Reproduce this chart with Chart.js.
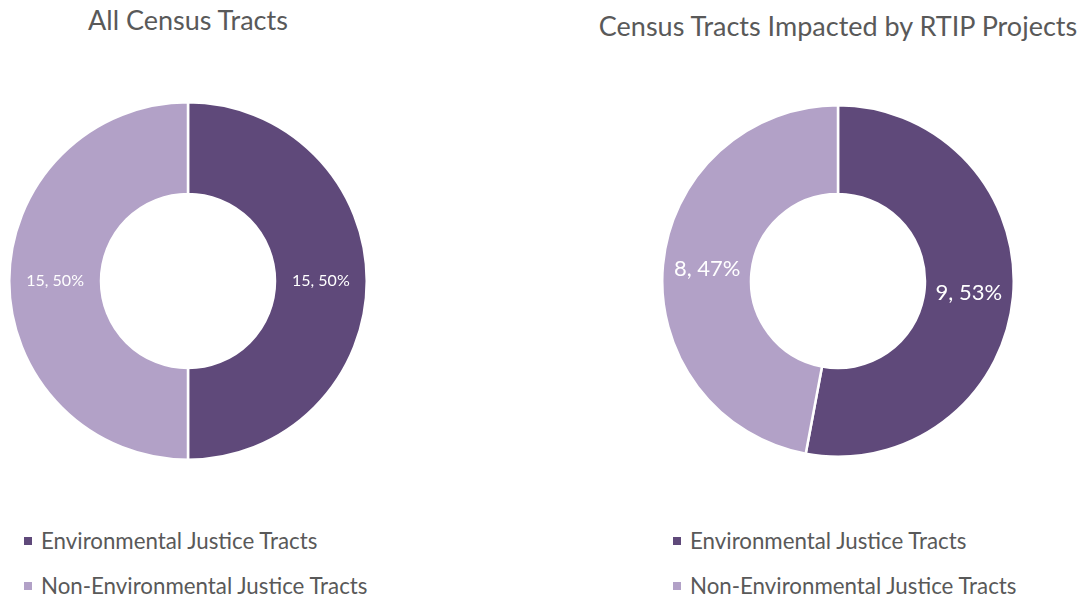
<!DOCTYPE html>
<html>
<head>
<meta charset="utf-8">
<script src="https://cdn.jsdelivr.net/npm/chart.js@4.4.0/dist/chart.umd.min.js"></script>
<style>
  html, body { margin: 0; padding: 0; background: #ffffff; }
  body { width: 1085px; height: 598px; position: relative; overflow: hidden; font-family: Lato, "Open Sans", sans-serif; color: #595959; }
  .title { position: absolute; text-align: center; font-size: 27px; white-space: nowrap; line-height: 1; }
  .cv { position: absolute; }
  .legend { position: absolute; font-size: 22.3px; white-space: nowrap; line-height: 1; }
  .legend .item { position: absolute; left: 0; display: flex; align-items: center; }
  .legend .sw { width: 8px; height: 8px; margin-right: 9px; }
</style>
</head>
<body>
<div class="title" id="t1" style="left:0px; top:6px; width:376px;"></div>
<div class="title" id="t2" style="left:538px; top:12px; width:600px;"></div>
<div class="cv" style="left:8px; top:101px; width:360px; height:360px;"><canvas id="c1"></canvas></div>
<div class="cv" style="left:661px; top:104px; width:354px; height:354px;"><canvas id="c2"></canvas></div>
<div class="legend" id="l1" style="left:24px; top:530px;"></div>
<div class="legend" id="l2" style="left:673px; top:530px;"></div>
<script>
const categories = ["Environmental Justice Tracts", "Non-Environmental Justice Tracts"];
const allTractsValues = [15, 15];
const rtipTractsValues = [9, 8];
const chartTitles = ["All Census Tracts", "Census Tracts Impacted by RTIP Projects"];
const sliceColors = ["#5F497A", "#B2A1C7"];

document.getElementById('t1').textContent = chartTitles[0];
document.getElementById('t2').textContent = chartTitles[1];

function buildLegend(id) {
  const el = document.getElementById(id);
  categories.forEach((c, i) => {
    const item = document.createElement('div');
    item.className = 'item';
    item.style.top = (i * 45) + 'px';
    const sw = document.createElement('span');
    sw.className = 'sw';
    sw.style.background = sliceColors[i];
    const tx = document.createElement('span');
    tx.textContent = c;
    item.appendChild(sw);
    item.appendChild(tx);
    el.appendChild(item);
  });
}
buildLegend('l1');
buildLegend('l2');

const sliceLabels = {
  id: 'sliceLabels',
  afterDatasetsDraw(chart, args, opts) {
    const ctx = chart.ctx;
    const ds = chart.data.datasets[0];
    const total = ds.data.reduce((a, b) => a + b, 0);
    const meta = chart.getDatasetMeta(0);
    ctx.save();
    ctx.fillStyle = '#ffffff';
    ctx.font = opts.size + 'px Lato, "Open Sans", sans-serif';
    ctx.textAlign = 'center';
    ctx.textBaseline = 'middle';
    meta.data.forEach((arc, i) => {
      const p = arc.tooltipPosition();
      const v = ds.data[i];
      ctx.fillText(v + ', ' + Math.round(v / total * 100) + '%', p.x, p.y);
    });
    ctx.restore();
  }
};

function makeChart(id, values, labelSize) {
  return new Chart(document.getElementById(id), {
    type: 'doughnut',
    data: {
      labels: categories,
      datasets: [{
        data: values,
        backgroundColor: sliceColors,
        borderColor: '#ffffff',
        borderWidth: 2.5
      }]
    },
    options: {
      responsive: true,
      maintainAspectRatio: false,
      animation: false,
      cutout: 87,
      layout: { padding: 0 },
      plugins: {
        legend: { display: false },
        title: { display: false },
        tooltip: { enabled: false },
        sliceLabels: { size: labelSize }
      }
    },
    plugins: [sliceLabels]
  });
}
makeChart('c1', allTractsValues, 16);
makeChart('c2', rtipTractsValues, 22);
</script>
</body>
</html>
